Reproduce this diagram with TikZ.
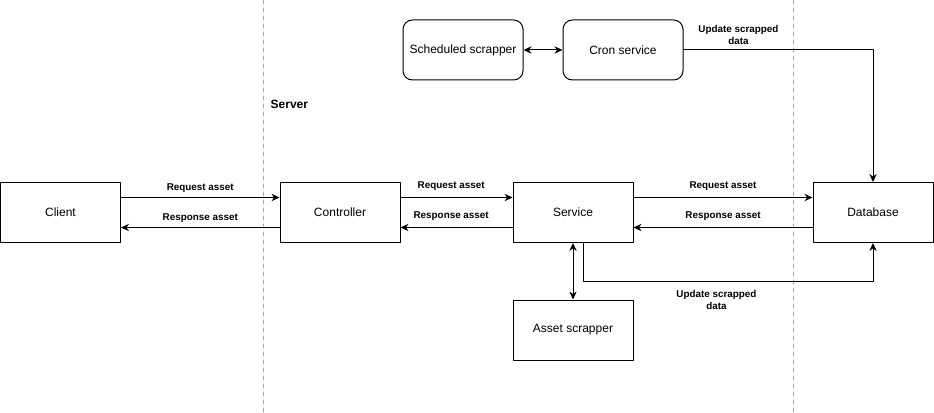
\documentclass[tikz,border=0pt]{standalone}
\usepackage{fontspec}
\setmainfont{Liberation Sans}
\usetikzlibrary{arrows.meta,calc,positioning}

\begin{document}
\begin{tikzpicture}[>={Stealth[length=6pt,width=5.5pt]}, line cap=round, line join=round, x=0.75pt, y=-0.75pt,
	box/.style={draw, line width=0.75pt, minimum width=90pt, minimum height=45pt, font=\fontsize{9}{11}\selectfont},
	rbox/.style={box, rounded corners=7pt},
	lbl/.style={font=\bfseries\fontsize{7.4}{9}\selectfont, inner sep=1pt, align=center},
	link/.style={line width=0.75pt}]
	\useasboundingbox (0,0) rectangle (934,413);

	% --- 1. SWIMLANE BORDERS ---
	\draw[gray!70, line width=0.6pt, dash pattern=on 3pt off 3pt] (263,0) -- (263,413);
	\draw[gray!70, line width=0.6pt, dash pattern=on 3pt off 3pt] (793,0) -- (793,413);
	\node[font=\bfseries\fontsize{9}{11}\selectfont, anchor=west] (server) at (266,104) {Server};

	% --- 2. BOXES ---
	\node[box] (client) at (60.5,212.5) {Client};
	\node[box] (ctrl) at (340,212.5) {Controller};
	\node[box] (service) at (573,212.5) {Service};
	\node[box] (db) at (873,212.5) {Database};
	\node[box] (scrap) at (573,330) {Asset scrapper};
	\node[rbox] (sched) at (463,50) {Scheduled scrapper};
	\node[rbox] (cron) at (623,50) {Cron service};

	% --- 3. REQUEST / RESPONSE ---
	\draw[link,->] ([yshift=11.25pt]client.east) -- ([yshift=11.25pt]ctrl.west) node[lbl, midway, above=2pt] {Request asset};
	\draw[link,->] ([yshift=-11.25pt]ctrl.west) -- ([yshift=-11.25pt]client.east) node[lbl, midway, above=2pt] {Response asset};
	\draw[link,->] ([yshift=11.25pt]ctrl.east) -- ([yshift=11.25pt]service.west) node[lbl, midway, above=4pt, xshift=-4pt] {Request asset};
	\draw[link,->] ([yshift=-11.25pt]service.west) -- ([yshift=-11.25pt]ctrl.east) node[lbl, midway, above=4pt, xshift=-4pt] {Response asset};
	\draw[link,->] ([yshift=11.25pt]service.east) -- ([yshift=11.25pt]db.west) node[lbl, midway, above=4pt] {Request asset};
	\draw[link,->] ([yshift=-11.25pt]db.west) -- ([yshift=-11.25pt]service.east) node[lbl, midway, above=4pt] {Response asset};

	% --- 4. SCRAPPERS ---
	\draw[link,<->] (service.south) -- (scrap.north);
	\draw[link,->] ([xshift=7.5pt]service.south) -- ++(0,38) coordinate (turn) -| (db.south)
		node[lbl, pos=0.23, below=6pt] {Update scrapped\\data};
	\draw[link,<->] (sched.east) -- (cron.west);
	\draw[link,->] (cron.east) -| (db.north)
		node[lbl, pos=0.145, above=3pt] {Update scrapped\\data};
\end{tikzpicture}
\end{document}
